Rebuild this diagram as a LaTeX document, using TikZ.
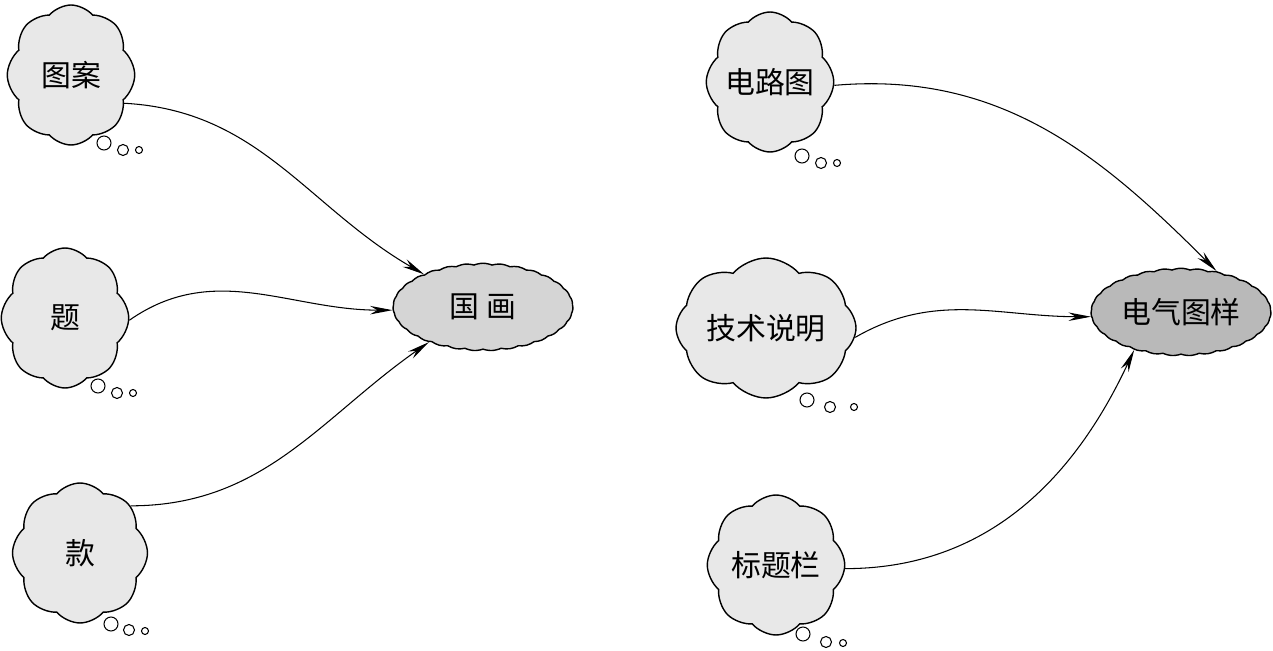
\documentclass[tikz,border=0pt]{standalone}
\usepackage{fontspec}
\newfontfamily\cjk{Noto Sans CJK SC}
\usetikzlibrary{arrows.meta,shapes.symbols}

\begin{document}
\begin{tikzpicture}[x=0.02cm, y=-0.02cm, font=\cjk\fontsize{17}{20}\selectfont,
  src/.style={cloud, cloud puffs=8, cloud puff arc=100, cloud ignores aspect, draw, line width=0.8pt, fill=gray!18, minimum width=2.55cm, minimum height=2.8cm, inner sep=0pt},
  dst/.style={cloud, cloud puffs=31, cloud puff arc=45, cloud ignores aspect, draw, line width=0.8pt, minimum width=3.6cm, minimum height=1.75cm, inner sep=0pt},
  puff/.style={draw, line width=0.6pt, fill=white},
  link/.style={-{Stealth[length=4.5mm, width=1.7mm]}, line width=0.6pt}]
\useasboundingbox (0,0) rectangle (1273,651);
% sources, left
\node[src] (tuan) at (71,75) {图案};
\node[src] (ti) at (65,318) {题};
\node[src, minimum width=2.7cm] (kuan) at (80,553) {款};
% sources, right
\node[src] (dianlu) at (770,82) {电路图};
\node[src, minimum width=3.6cm] (jishu) at (766,328) {技术说明};
\node[src, minimum width=2.75cm] (biaoti) at (776,565) {标题栏};
% targets
\node[dst, fill=gray!33] (guohua) at (483,307) {国\hspace{0.25em}画};
\node[dst, fill=gray!55] (tuyang) at (1181,312) {电气图样};
% thought bubbles
\draw[puff] (104,143) circle[radius=0.14cm] (123,150) circle[radius=0.11cm] (139,150) circle[radius=0.07cm];
\draw[puff] (98,386) circle[radius=0.14cm] (117,393) circle[radius=0.11cm] (133,393) circle[radius=0.07cm];
\draw[puff] (111,624) circle[radius=0.14cm] (129,630) circle[radius=0.11cm] (145,631) circle[radius=0.07cm];
\draw[puff] (802,156) circle[radius=0.14cm] (821,163) circle[radius=0.11cm] (837,163) circle[radius=0.07cm];
\draw[puff] (807,400) circle[radius=0.14cm] (830,407) circle[radius=0.11cm] (854,407) circle[radius=0.07cm];
\draw[puff] (803,634) circle[radius=0.14cm] (826,642) circle[radius=0.11cm] (843,643) circle[radius=0.07cm];
% links
\draw[link] (tuan.-28) to[out=-3, in=150] (guohua.151);
\draw[link] (ti.-2) to[out=35, in=180] (guohua.182);
\draw[link] (kuan.43) to[out=0, in=215] (guohua.213);
\draw[link] (dianlu.-3) to[out=5, in=135] (tuyang.49);
\draw[link] (jishu.-6) to[out=30, in=180] (tuyang.183);
\draw[link] (biaoti.-3) to[out=0, in=245] (tuyang.219);
\end{tikzpicture}
\end{document}
